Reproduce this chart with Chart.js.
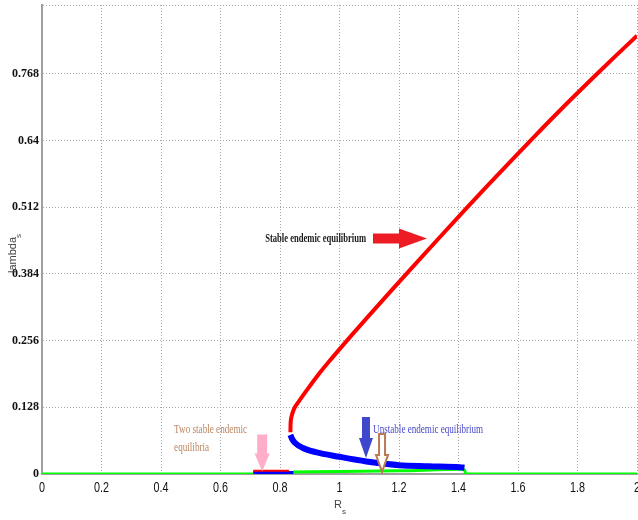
<!DOCTYPE html>
<html>
<head>
<meta charset="utf-8">
<script src="https://cdn.jsdelivr.net/npm/chart.js@4.4.1/dist/chart.umd.min.js"></script>
<style>
  html, body { margin: 0; padding: 0; background: #fff; }
  canvas { display: block; }
</style>
</head>
<body>
<canvas id="bifChart" width="638" height="520"></canvas>
<script>
// axis ticks
const xTicks = [0, 0.2, 0.4, 0.6, 0.8, 1, 1.2, 1.4, 1.6, 1.8, 2];
const xTickLabels = ['0', '0.2', '0.4', '0.6', '0.8', '1', '1.2', '1.4', '1.6', '1.8', '2'];
const yTicks = [0, 0.128, 0.256, 0.384, 0.512, 0.64, 0.768, 0.9];
const yTickLabels = ['0', '0.128', '0.256', '0.384', '0.512', '0.64', '0.768', ''];

// stable endemic branch (red)
const stableR = [0.835, 0.8355, 0.837, 0.841, 0.845, 0.85, 0.864, 0.889, 0.928, 0.971, 1.025, 1.093, 1.171, 1.25, 1.33, 1.43, 1.492, 1.575, 1.659, 1.745, 1.866, 1.924, 2.0];
const stableLambda = [0.08, 0.095, 0.105, 0.115, 0.122, 0.128, 0.14, 0.16, 0.19, 0.22, 0.256, 0.3, 0.35, 0.4, 0.45, 0.512, 0.55, 0.6, 0.65, 0.7, 0.768, 0.8, 0.841];

// unstable endemic branch (blue)
const unstableR = [0.835, 0.84, 0.85, 0.877, 0.92, 1.0, 1.09, 1.16, 1.2, 1.3, 1.405, 1.42];
const unstableLambda = [0.075, 0.068, 0.06, 0.05, 0.042, 0.033, 0.024, 0.019, 0.017, 0.015, 0.013, 0.012];

// small branches near zero
const lowRedR = [0.71, 0.83];
const lowRedLambda = [0.006, 0.006];
const lowBlueR = [0.71, 0.845];
const lowBlueLambda = [0.003, 0.003];

// disease-free line (green)
const trivialR = [0, 0.84, 0.845, 1.0, 1.2, 1.41, 1.42, 1.425, 2];
const trivialLambda = [0, 0, 0.004, 0.005, 0.006, 0.009, 0.008, 0, 0];

const toPts = (xs, ys) => xs.map((x, i) => ({ x: x, y: ys[i] }));

function downArrow(ctx, x, yTip, len, headLen, shaftW, headW) {
  const yTop = yTip - len, yHead = yTip - headLen;
  ctx.beginPath();
  ctx.moveTo(x - shaftW / 2, yTop);
  ctx.lineTo(x + shaftW / 2, yTop);
  ctx.lineTo(x + shaftW / 2, yHead);
  ctx.lineTo(x + headW / 2, yHead);
  ctx.lineTo(x, yTip);
  ctx.lineTo(x - headW / 2, yHead);
  ctx.lineTo(x - shaftW / 2, yHead);
  ctx.closePath();
}

function squeezedText(ctx, text, x, y, sx) {
  ctx.save();
  ctx.translate(x, y);
  ctx.scale(sx, 1);
  ctx.fillText(text, 0, 0);
  ctx.restore();
}

const notesPlugin = {
  id: 'notes',
  afterDatasetsDraw(chart) {
    const ctx = chart.ctx;
    const xs = chart.scales.x, ys = chart.scales.y;
    const px = v => xs.getPixelForValue(v);
    const py = v => ys.getPixelForValue(v);
    ctx.save();
    ctx.textBaseline = 'middle';
    ctx.textAlign = 'left';

    // stable label + red arrow
    ctx.font = 'bold 12px "Liberation Serif", serif';
    ctx.fillStyle = '#1a1a1a';
    let t = 'Stable endemic equilibrium';
    squeezedText(ctx, t, px(0.75), py(0.451), 101 / ctx.measureText(t).width);
    const tipX = px(1.294), tipY = py(0.452);
    ctx.fillStyle = '#ed1c24';
    ctx.beginPath();
    ctx.moveTo(tipX - 54, tipY - 5);
    ctx.lineTo(tipX - 28, tipY - 5);
    ctx.lineTo(tipX - 28, tipY - 10);
    ctx.lineTo(tipX, tipY);
    ctx.lineTo(tipX - 28, tipY + 10);
    ctx.lineTo(tipX - 28, tipY + 5);
    ctx.lineTo(tipX - 54, tipY + 5);
    ctx.closePath();
    ctx.fill();

    // two stable equilibria label + pink arrow
    ctx.font = '12px "Liberation Serif", serif';
    ctx.fillStyle = '#b98560';
    t = 'Two stable endemic';
    const sx2 = 73 / ctx.measureText(t).width;
    squeezedText(ctx, t, px(0.444), py(0.084), sx2);
    squeezedText(ctx, 'equilibria', px(0.444), py(0.05), sx2);
    ctx.fillStyle = '#ffaec9';
    downArrow(ctx, px(0.74), py(0.005), 37, 18, 10, 15);
    ctx.fill();

    // unstable label + blue arrow
    ctx.fillStyle = '#4848cc';
    t = 'Unstable endemic equilibrium';
    squeezedText(ctx, t, px(1.113), py(0.084), 110 / ctx.measureText(t).width);
    ctx.fillStyle = '#3f48cc';
    downArrow(ctx, px(1.089), py(0.0307), 41, 20, 8, 14);
    ctx.fill();

    // hollow brown arrow
    ctx.fillStyle = '#ffffff';
    ctx.strokeStyle = '#b97a57';
    ctx.lineWidth = 2;
    downArrow(ctx, px(1.143), py(0.004), 38, 17, 6, 12);
    ctx.fill();
    ctx.stroke();

    // x tick labels, narrow like the original
    ctx.fillStyle = '#111';
    ctx.font = '15px "Liberation Sans", Arial, sans-serif';
    ctx.textAlign = 'center';
    xTicks.forEach((v, i) => {
      squeezedText(ctx, xTickLabels[i], px(v), 488, 0.72);
    });

    // axis titles
    ctx.fillStyle = '#444';
    ctx.font = '11px "Liberation Sans", Arial, sans-serif';
    ctx.fillText('R', 338, 505);
    ctx.font = '8px "Liberation Sans", Arial, sans-serif';
    ctx.fillText('s', 344, 512);
    ctx.save();
    ctx.translate(13, 255);
    ctx.rotate(-Math.PI / 2);
    ctx.font = '11px "Liberation Sans", Arial, sans-serif';
    ctx.fillText('lambda', 0, 0);
    ctx.font = '8px "Liberation Sans", Arial, sans-serif';
    ctx.fillText('s', 19, 6);
    ctx.restore();
    ctx.restore();
  }
};

const lineSet = (pts, color, width) => ({
  data: pts, showLine: true, borderColor: color, borderWidth: width,
  pointRadius: 0, pointHoverRadius: 0, pointHitRadius: 0, cubicInterpolationMode: 'monotone'
});

const ctx = document.getElementById('bifChart').getContext('2d');
const bifChart = new Chart(ctx, {
  type: 'scatter',
  data: {
    datasets: [
      lineSet(toPts(lowRedR, lowRedLambda), '#ff0000', 2),
      lineSet(toPts(stableR, stableLambda), '#ff0000', 4),
      lineSet(toPts(unstableR, unstableLambda), '#0000ff', 6),
      lineSet(toPts(lowBlueR, lowBlueLambda), '#0000ff', 3),
      lineSet(toPts(trivialR, trivialLambda), '#00ff00', 3)
    ]
  },
  options: {
    responsive: false,
    animation: false,
    devicePixelRatio: 1,
    layout: { autoPadding: false, padding: { top: 5, right: 1, left: 0, bottom: 0 } },
    plugins: { legend: { display: false }, tooltip: { enabled: false } },
    scales: {
      x: {
        type: 'linear', min: 0, max: 2,
        afterBuildTicks: s => { s.ticks = xTicks.map(v => ({ value: v })); },
        afterFit: s => { s.height = 46; s.paddingLeft = 0; s.paddingRight = 0; },
        ticks: { autoSkip: false, maxRotation: 0, display: false },
        grid: { color: '#a8a8a8', lineWidth: 1, drawTicks: false },
        border: { display: true, color: '#a0a0a0', width: 2, dash: [1, 2] }
      },
      y: {
        type: 'linear', min: 0, max: 0.9,
        afterBuildTicks: s => { s.ticks = yTicks.map(v => ({ value: v })); },
        afterFit: s => { s.width = 42; s.paddingTop = 0; s.paddingBottom = 0; },
        ticks: {
          autoSkip: false, padding: 3,
          color: '#111',
          font: { family: '"Liberation Serif", serif', size: 12, weight: 'bold' },
          callback: (v, i) => yTickLabels[i]
        },
        grid: { color: '#a8a8a8', lineWidth: 1, drawTicks: false },
        border: { display: true, color: '#a0a0a0', width: 2, dash: [1, 2] }
      }
    }
  },
  plugins: [notesPlugin]
});
</script>
</body>
</html>
